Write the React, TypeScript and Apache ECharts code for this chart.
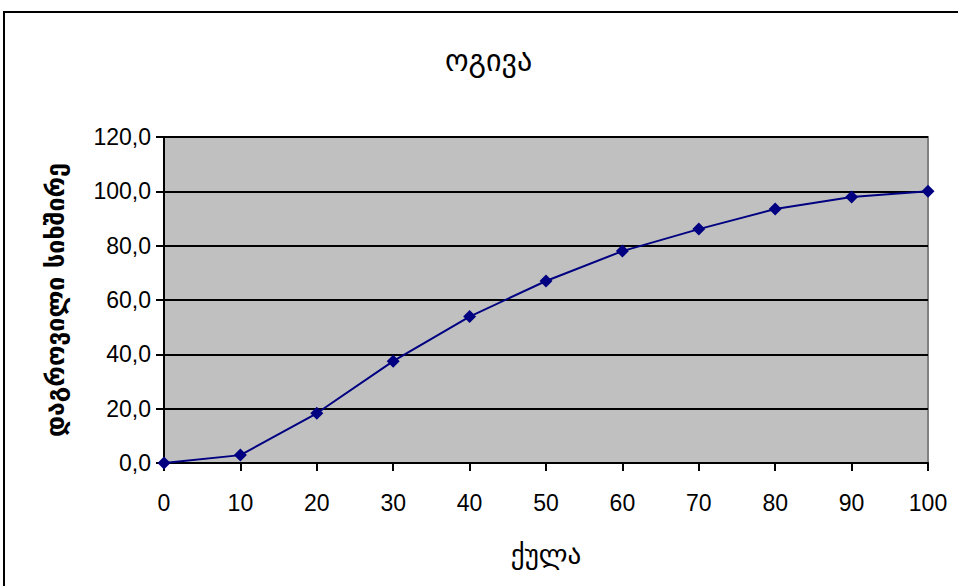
import React, { useEffect, useRef } from "react";
import * as echarts from "echarts";

// Scores (x) and cumulative frequency (y) for the ogive
const scores = [0, 10, 20, 30, 40, 50, 60, 70, 80, 90, 100];
const cumulative = [0, 2.9, 18.3, 37.5, 53.9, 67.0, 78.0, 86.1, 93.5, 97.9, 100];

const titleText = "ოგივა";
const xAxisName = "ქულა";
const yAxisName = "დაგროვილი სიხშირე";

const labelFont = "'Liberation Sans', Arial, sans-serif";
const geoFont = "'DejaVu Sans', 'Noto Sans Georgian', 'Noto Sans', sans-serif";

export default function App() {
  const ref = useRef<HTMLDivElement>(null);

  useEffect(() => {
    if (!ref.current) return;
    const chart = echarts.init(ref.current, undefined, { renderer: "svg" });
    chart.setOption({
      animation: false,
      backgroundColor: "#ffffff",
      title: {
        text: titleText,
        left: 440,
        top: 40,
        textStyle: { fontFamily: geoFont, fontSize: 30, fontWeight: "normal", color: "#000" },
      },
      grid: { left: 164, right: 30, top: 137, bottom: 123, show: true, backgroundColor: "#c0c0c0", borderColor: "#808080", borderWidth: 2 },
      xAxis: {
        type: "value",
        min: 0,
        max: 100,
        interval: 10,
        name: xAxisName,
        nameLocation: "middle",
        nameGap: 78,
        nameTextStyle: { fontFamily: geoFont, fontSize: 27, color: "#000" },
        axisLine: { show: true, onZero: false, lineStyle: { color: "#000", width: 2 } },
        axisTick: { show: true, inside: false, length: 8, lineStyle: { color: "#000", width: 2 } },
        axisLabel: { fontFamily: labelFont, fontSize: 23, color: "#000", margin: 28 },
        splitLine: { show: false },
      },
      yAxis: {
        type: "value",
        min: 0,
        max: 120,
        interval: 20,
        name: yAxisName,
        nameLocation: "middle",
        nameGap: 96,
        nameRotate: 90,
        nameTextStyle: { fontFamily: geoFont, fontSize: 25, fontWeight: "bold", color: "#000" },
        axisLine: { show: true, lineStyle: { color: "#000", width: 2 } },
        axisTick: { show: true, inside: false, length: 8, lineStyle: { color: "#000", width: 2 } },
        axisLabel: {
          fontFamily: labelFont,
          fontSize: 23,
          color: "#000",
          margin: 13,
          formatter: (v: number) => v.toFixed(1).replace(".", ","),
        },
        splitLine: { show: true, lineStyle: { color: "#000", width: 2 } },
      },
      graphic: [
        {
          type: "rect",
          shape: { x: 4, y: 12, width: 1000, height: 1000 },
          style: { fill: "none", stroke: "#000", lineWidth: 2 },
          silent: true,
          z: 100,
        },
      ],
      series: [
        {
          type: "line",
          data: scores.map((s, i) => [s, cumulative[i]]),
          symbol: "diamond",
          symbolSize: 13,
          lineStyle: { color: "#000080", width: 2 },
          itemStyle: { color: "#000080" },
          z: 10,
        },
      ],
    });
    return () => chart.dispose();
  }, []);

  return <div ref={ref} style={{ width: 958, height: 586, position: "absolute", left: 0, top: 0 }} />;
}
